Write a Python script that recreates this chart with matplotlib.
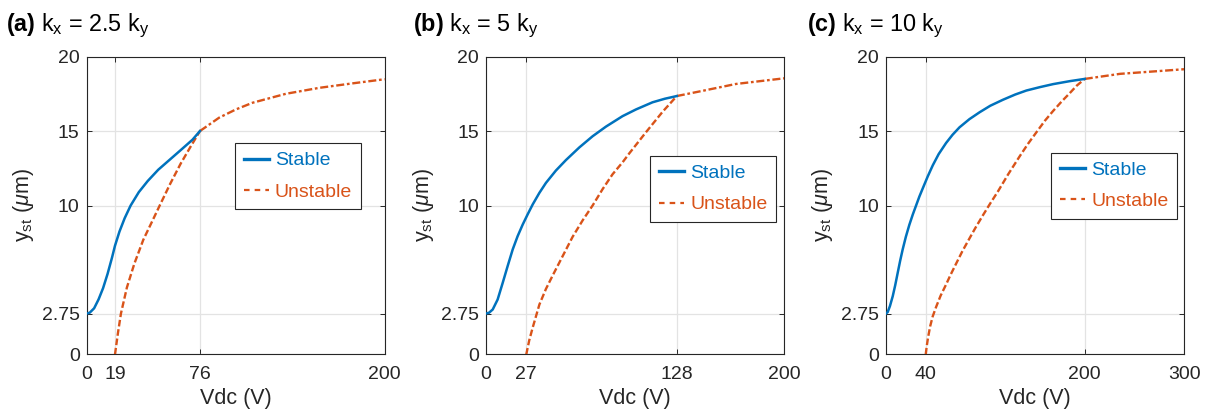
import matplotlib
matplotlib.use("Agg")
import matplotlib.pyplot as plt
from matplotlib.lines import Line2D

plt.rcParams['font.family'] = ['Liberation Sans', 'DejaVu Sans']
plt.rcParams['mathtext.fontset'] = 'custom'
plt.rcParams['mathtext.rm'] = 'Liberation Sans'
plt.rcParams['mathtext.it'] = 'Liberation Sans:italic'
plt.rcParams['mathtext.bf'] = 'Liberation Sans:bold'

BLUE = '#0072BD'
ORANGE = '#D95319'
DARK = '#262626'

# (a) kx = 2.5 ky
a_stable_v = [0, 2, 5, 8, 11, 14, 17, 19, 22, 25.5, 29.5, 35, 41, 48, 56, 64, 71, 76]
a_stable_y = [2.75, 2.8, 3.1, 3.7, 4.45, 5.4, 6.5, 7.3, 8.25, 9.15, 10.0, 10.9, 11.65, 12.4, 13.1, 13.8, 14.42, 15.0]
a_unstable_v = [19, 21, 23, 27, 32, 38, 44, 49, 56, 63, 70, 76]
a_unstable_y = [0, 1.45, 2.75, 4.5, 6.1, 7.7, 8.95, 10.0, 11.45, 12.8, 14.0, 15.0]
a_upper_v = [76, 88.9, 100.1, 111.3, 133.6, 156, 178.3, 200]
a_upper_y = [15.0, 15.9, 16.45, 16.9, 17.5, 17.9, 18.2, 18.48]

# (b) kx = 5 ky
b_stable_v = [0, 2, 4.5, 7.8, 11.2, 14.5, 17.9, 21.2, 24.6, 27.9, 31.3, 35.8, 40.2, 46.9, 53.6,
              62.6, 71.5, 80.5, 91.6, 100.6, 111.7, 120, 128]
b_stable_y = [2.75, 2.8, 3.02, 3.69, 4.81, 5.93, 7.05, 7.94, 8.72, 9.4, 10.07, 10.85, 11.52, 12.35, 13.05,
              13.9, 14.65, 15.3, 16.0, 16.45, 16.93, 17.17, 17.35]
b_unstable_v = [27, 29, 31.3, 35.8, 40.2, 44.7, 51.4, 58.1, 64.8, 71.5, 78.2, 84.9, 91.6, 96.1,
                107.3, 118.5, 128]
b_unstable_y = [0, 0.95, 1.8, 3.35, 4.4, 5.3, 6.6, 7.9, 9.0, 10.0, 11.1, 12.1, 12.9, 13.5,
                14.92, 16.3, 17.35]
b_upper_v = [128, 145.3, 167.6, 200]
b_upper_y = [17.35, 17.7, 18.16, 18.54]

# (c) kx = 10 ky
c_stable_v = [0, 1.7, 4, 6.8, 9.3, 11.8, 14.3, 16.8, 20, 23.5, 27, 30.3, 33.6, 37, 42, 47.1, 53,
              60.5, 67, 74, 84, 94.2, 105, 117.7, 130, 141.3, 155, 168.2, 185, 200]
c_stable_y = [2.75, 2.84, 3.25, 3.91, 4.65, 5.48, 6.3, 7.05, 7.9, 8.7, 9.4, 10.0, 10.6, 11.15, 11.95,
              12.7, 13.45, 14.2, 14.75, 15.25, 15.8, 16.26, 16.7, 17.1, 17.45, 17.72, 17.95, 18.15,
              18.35, 18.5]
c_unstable_v = [40, 41, 42.5, 44.5, 47, 50.5, 55, 60.5, 65, 70.6, 77, 84.1, 90, 97.6, 105, 112.7,
                123, 134.5, 143, 151.4, 160, 168.2, 177, 185, 192, 200]
c_unstable_y = [0, 0.55, 1.2, 1.9, 2.55, 3.2, 3.95, 4.7, 5.35, 6.1, 6.95, 7.8, 8.5, 9.35, 10.15, 10.95,
                12.1, 13.3, 14.15, 14.92, 15.7, 16.35, 17.0, 17.55, 18.05, 18.5]
c_upper_v = [200, 235.5, 269, 300]
c_upper_y = [18.5, 18.84, 19.0, 19.15]

titles = [r'$\mathbf{(a)}$ k$_\mathrm{x}$ = 2.5 k$_\mathrm{y}$',
          r'$\mathbf{(b)}$ k$_\mathrm{x}$ = 5 k$_\mathrm{y}$',
          r'$\mathbf{(c)}$ k$_\mathrm{x}$ = 10 k$_\mathrm{y}$']
xticks = [[0, 19, 76, 200], [0, 27, 128, 200], [0, 40, 200, 300]]
xmax = [200, 200, 300]
yticks = [0, 2.75, 10, 15, 20]
ytick_labels = ['0', '2.75', '10', '15', '20']

stable = [(a_stable_v, a_stable_y), (b_stable_v, b_stable_y), (c_stable_v, c_stable_y)]
unstable = [(a_unstable_v, a_unstable_y), (b_unstable_v, b_unstable_y), (c_unstable_v, c_unstable_y)]
upper = [(a_upper_v, a_upper_y), (b_upper_v, b_upper_y), (c_upper_v, c_upper_y)]

lefts = [0.0715, 0.401, 0.731]
legend_pos = [(0.497, 0.487), (0.551, 0.444), (0.554, 0.455)]
title_x = [0.005, 0.341, 0.666]

fig = plt.figure(figsize=(12.12, 4.19), dpi=100)

for i in range(3):
    ax = fig.add_axes([lefts[i], 0.154, 0.246, 0.711])
    sv, sy = stable[i]
    uv, uy = unstable[i]
    pv, py = upper[i]
    ax.plot(uv, uy, color=ORANGE, lw=1.7, dashes=(2.8, 1.2), zorder=3)
    ax.plot(pv, py, color=ORANGE, lw=1.7, dashes=(3.4, 1.15, 1.15, 1.15), zorder=3)
    ax.plot(sv, sy, color=BLUE, lw=1.8, zorder=4)

    ax.set_xlim(0, xmax[i])
    ax.set_ylim(0, 20)
    ax.set_xticks(xticks[i])
    ax.set_yticks(yticks)
    ax.set_yticklabels(ytick_labels)
    ax.grid(True, color='#e3e3e3', lw=0.9)
    ax.set_axisbelow(True)
    ax.tick_params(direction='in', length=3.5, width=0.7, colors=DARK,
                   labelsize=14, top=True, right=True)
    ax.tick_params(axis='x', pad=8)
    ax.tick_params(axis='y', pad=5)
    for s in ax.spines.values():
        s.set_color(DARK)
        s.set_linewidth(0.8)

    ax.set_xlabel('Vdc (V)', fontsize=15.5, color=DARK, labelpad=4)
    ax.set_ylabel(r'y$_\mathrm{st}$ ($\mu$m)', fontsize=15.5, color=DARK, labelpad=4)

    handles = [Line2D([], [], color=BLUE, lw=2.4),
               Line2D([], [], color=ORANGE, lw=1.6, dashes=(2.5, 2.3))]
    leg = ax.legend(handles, ['Stable', 'Unstable'], loc='lower left',
                    bbox_to_anchor=legend_pos[i], fontsize=14, frameon=True,
                    fancybox=False, framealpha=1, edgecolor=DARK,
                    handlelength=1.3, handletextpad=0.3, borderpad=0.45,
                    labelspacing=0.7, borderaxespad=0)
    leg.get_frame().set_linewidth(0.8)
    leg.texts[0].set_color(BLUE)
    leg.texts[1].set_color(ORANGE)

    fig.text(title_x[i], 0.925, titles[i], fontsize=16.8, color='black',
             ha='left', va='baseline')

fig.savefig('out.png', dpi=100)
